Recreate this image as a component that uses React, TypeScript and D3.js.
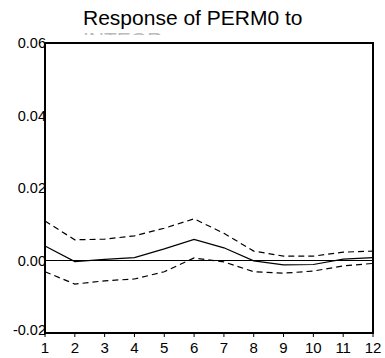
import React from 'react';
import * as d3 from 'd3';

const periods = [1, 2, 3, 4, 5, 6, 7, 8, 9, 10, 11, 12];
const response = [0.004, -0.0003, 0.0003, 0.0008, 0.0032, 0.0058, 0.0035, -0.0001, -0.0012, -0.0011, 0.0004, 0.0008];
const upperBand = [0.0109, 0.0057, 0.0059, 0.0068, 0.0089, 0.0115, 0.0075, 0.0026, 0.0012, 0.0012, 0.0023, 0.0026];
const lowerBand = [-0.0031, -0.0065, -0.0056, -0.0051, -0.0031, 0.0007, -0.0004, -0.0031, -0.0035, -0.0029, -0.0015, -0.0008];
const yTicks = [-0.02, 0.0, 0.02, 0.04, 0.06];

const width = 385;
const height = 358;
const margin = { top: 43, right: 12, bottom: 25, left: 45 };

const App: React.FC = () => {
    const x = d3.scaleLinear()
        .domain([1, 12])
        .range([margin.left, width - margin.right]);
    const y = d3.scaleLinear()
        .domain([-0.02, 0.06])
        .range([height - margin.bottom, margin.top]);

    const line = d3.line<number>()
        .x((d, i) => x(periods[i]))
        .y(d => y(d));

    const font = '"Liberation Sans", Arial, sans-serif';

    return (
        <svg width={width} height={height} style={{ position: 'absolute', left: 0, top: 0 }}>
            <defs>
                <clipPath id="subclip">
                    <rect x={0} y={0} width={width} height={35} />
                </clipPath>
            </defs>
            <rect width={width} height={height} fill="#fff" />
            {/* title, second line is cut off by the plot */}
            <text x={83} y={25} fontFamily={font} fontSize={21} fill="#000">Response of PERM0 to</text>
            <text x={83} y={47} fontFamily={font} fontSize={21} fill="#bbb" clipPath="url(#subclip)">INTEOR</text>

            {/* zero line */}
            <line x1={x(1)} x2={x(12)} y1={y(0)} y2={y(0)} stroke="#000" strokeWidth={1} />

            {/* bands */}
            <path d={line(upperBand) || ''} fill="none" stroke="#000" strokeWidth={1.2} strokeDasharray="6,4" />
            <path d={line(lowerBand) || ''} fill="none" stroke="#000" strokeWidth={1.2} strokeDasharray="6,4" />
            <path d={line(response) || ''} fill="none" stroke="#000" strokeWidth={1.2} />

            {/* frame */}
            <rect x={x(1)} y={y(0.06)} width={x(12) - x(1)} height={y(-0.02) - y(0.06)}
                fill="none" stroke="#000" strokeWidth={2} />

            {/* y labels */}
            {yTicks.map(t => (
                <text key={t} x={x(1) + 1} y={y(t)} dy={t === -0.02 ? '0.15em' : '0.35em'} textAnchor="end"
                    fontFamily={font} fontSize={14.5} fill="#000">
                    {t.toFixed(2)}
                </text>
            ))}

            {/* x ticks and labels */}
            {periods.map(p => (
                <g key={p}>
                    <line x1={x(p)} x2={x(p)} y1={y(-0.02)} y2={y(-0.02) + 4} stroke="#000" />
                    <text x={x(p)} y={y(-0.02) + 20} textAnchor="middle"
                        fontFamily={font} fontSize={15} fill="#000">{p}</text>
                </g>
            ))}
        </svg>
    );
};

export default App;
